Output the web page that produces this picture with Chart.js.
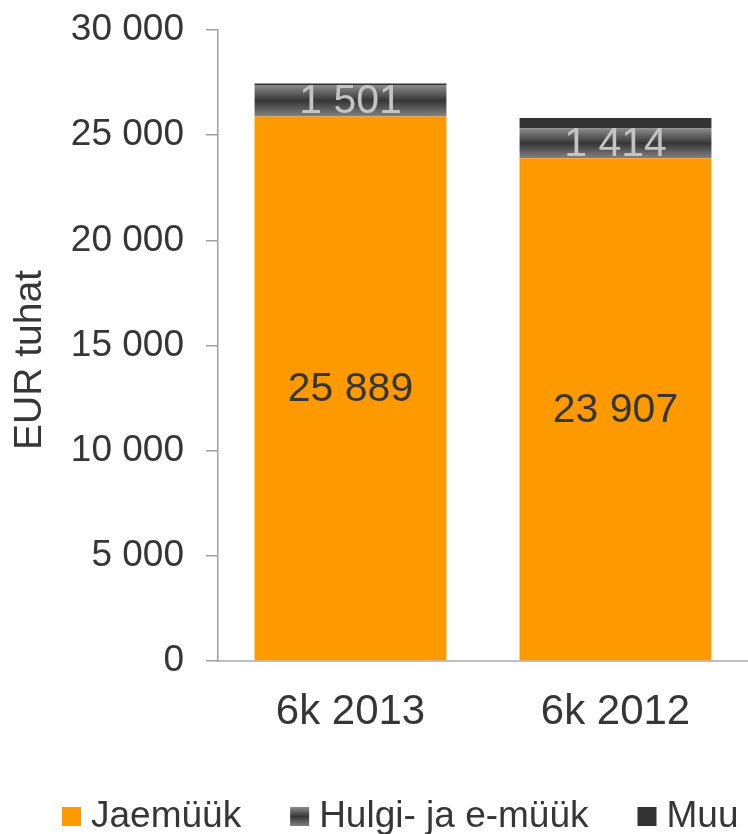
<!DOCTYPE html>
<html>
<head>
<meta charset="utf-8">
<script src="https://cdn.jsdelivr.net/npm/chart.js@4.4.1/dist/chart.umd.min.js"></script>
<style>
  html, body { margin: 0; background: #fff; }
  #wrap { width: 748px; height: 834px; }
</style>
</head>
<body>
<div id="wrap"><canvas id="chart" width="748" height="834"></canvas></div>
<script>
const categories = ["6k 2013", "6k 2012"];
const jaemuuk = [25889, 23907];
const hulgi = [1501, 1414];
const muu = [70, 490];
const seriesNames = ["Jaemüük", "Hulgi- ja e-müük", "Muu"];
const yTicks = [0, 5000, 10000, 15000, 20000, 25000, 30000];
const yTitle = "EUR tuhat";

const FONT = '"Liberation Sans", Arial, sans-serif';
const ORANGE = "#ff9900";
const DARK = "#333333";
const TEXT = "#363636";

Chart.defaults.font.family = FONT;

const fmt = v => String(v).replace(/\B(?=(\d{3})+(?!\d))/g, " ");

function greyGradient(ctx, top, bottom) {
  const g = ctx.createLinearGradient(0, top, 0, bottom);
  g.addColorStop(0, "#8c8c8c");
  g.addColorStop(0.5, "#363636");
  g.addColorStop(1, "#828282");
  return g;
}

// gradient for the middle segment, follows each bar's own pixel span
function hulgiFill(context) {
  const chart = context.chart;
  const y = chart.scales.y;
  if (context.type !== "data" || !chart.chartArea || !y) return "#666";
  const i = context.dataIndex;
  const bottom = y.getPixelForValue(jaemuuk[i]);
  const top = y.getPixelForValue(jaemuuk[i] + hulgi[i]);
  return greyGradient(chart.ctx, top, bottom);
}

const decor = {
  id: "decor",
  afterDatasetsDraw(chart) {
    const ctx = chart.ctx;
    ctx.save();
    ctx.font = `41px ${FONT}`;
    ctx.textAlign = "center";
    ctx.textBaseline = "middle";
    const labelColors = [TEXT, "#c4c4c4"];
    [0, 1].forEach(di => {
      const meta = chart.getDatasetMeta(di);
      meta.data.forEach((bar, i) => {
        ctx.fillStyle = labelColors[di];
        ctx.fillText(fmt(chart.data.datasets[di].data[i]), bar.x, (bar.y + bar.base) / 2 + 1);
      });
    });
    ctx.restore();
  },
  afterDraw(chart) {
    const ctx = chart.ctx;
    ctx.save();
    // y axis title
    ctx.translate(30, 360);
    ctx.rotate(-Math.PI / 2);
    ctx.font = `39px ${FONT}`;
    ctx.fillStyle = TEXT;
    ctx.textAlign = "center";
    ctx.textBaseline = "middle";
    ctx.fillText(yTitle, 0, 0);
    ctx.restore();

    // legend
    ctx.save();
    ctx.font = `37px ${FONT}`;
    ctx.textBaseline = "middle";
    ctx.textAlign = "left";
    const box = 19, gap = 10, itemGap = 49, boxTop = 807;
    let x = 62;
    chart.data.datasets.forEach((ds, di) => {
      ctx.fillStyle = di === 1 ? greyGradient(ctx, boxTop, boxTop + box) : ds.legendColor;
      ctx.fillRect(x, boxTop, box, box);
      x += box + gap;
      ctx.fillStyle = TEXT;
      ctx.fillText(ds.label, x, 817);
      x += ctx.measureText(ds.label).width + itemGap;
    });
    ctx.restore();
  }
};

new Chart(document.getElementById("chart"), {
  type: "bar",
  data: {
    labels: categories,
    datasets: [
      { label: seriesNames[0], data: jaemuuk, backgroundColor: ORANGE, legendColor: ORANGE },
      { label: seriesNames[1], data: hulgi, backgroundColor: hulgiFill, legendColor: "#666" },
      { label: seriesNames[2], data: muu, backgroundColor: DARK, legendColor: DARK },
    ],
  },
  options: {
    responsive: false,
    animation: false,
    devicePixelRatio: 1,
    categoryPercentage: 1,
    barPercentage: 0.724,
    layout: { padding: { top: 30, right: 0, bottom: 100, left: 0 } },
    plugins: { legend: { display: false }, tooltip: { enabled: false } },
    scales: {
      x: {
        stacked: true,
        grid: { display: false },
        border: { color: "#c0c0c0", width: 2 },
        ticks: { color: TEXT, font: { size: 42 }, padding: 18 },
        afterFit: s => { s.height = 73; },
      },
      y: {
        stacked: true,
        min: 0,
        max: 30000,
        afterBuildTicks: s => { s.ticks = yTicks.map(value => ({ value })); },
        afterFit: s => { s.width = 218; s.paddingTop = 0; s.paddingBottom = 0; },
        border: { color: "#a0a0a0", width: 1.5 },
        grid: { drawOnChartArea: false, drawTicks: true, tickLength: 12, color: "#a0a0a0", lineWidth: 1.5 },
        ticks: { color: TEXT, font: { size: 37 }, padding: 22, callback: v => fmt(v) },
      },
    },
  },
  plugins: [decor],
});
</script>
</body>
</html>
